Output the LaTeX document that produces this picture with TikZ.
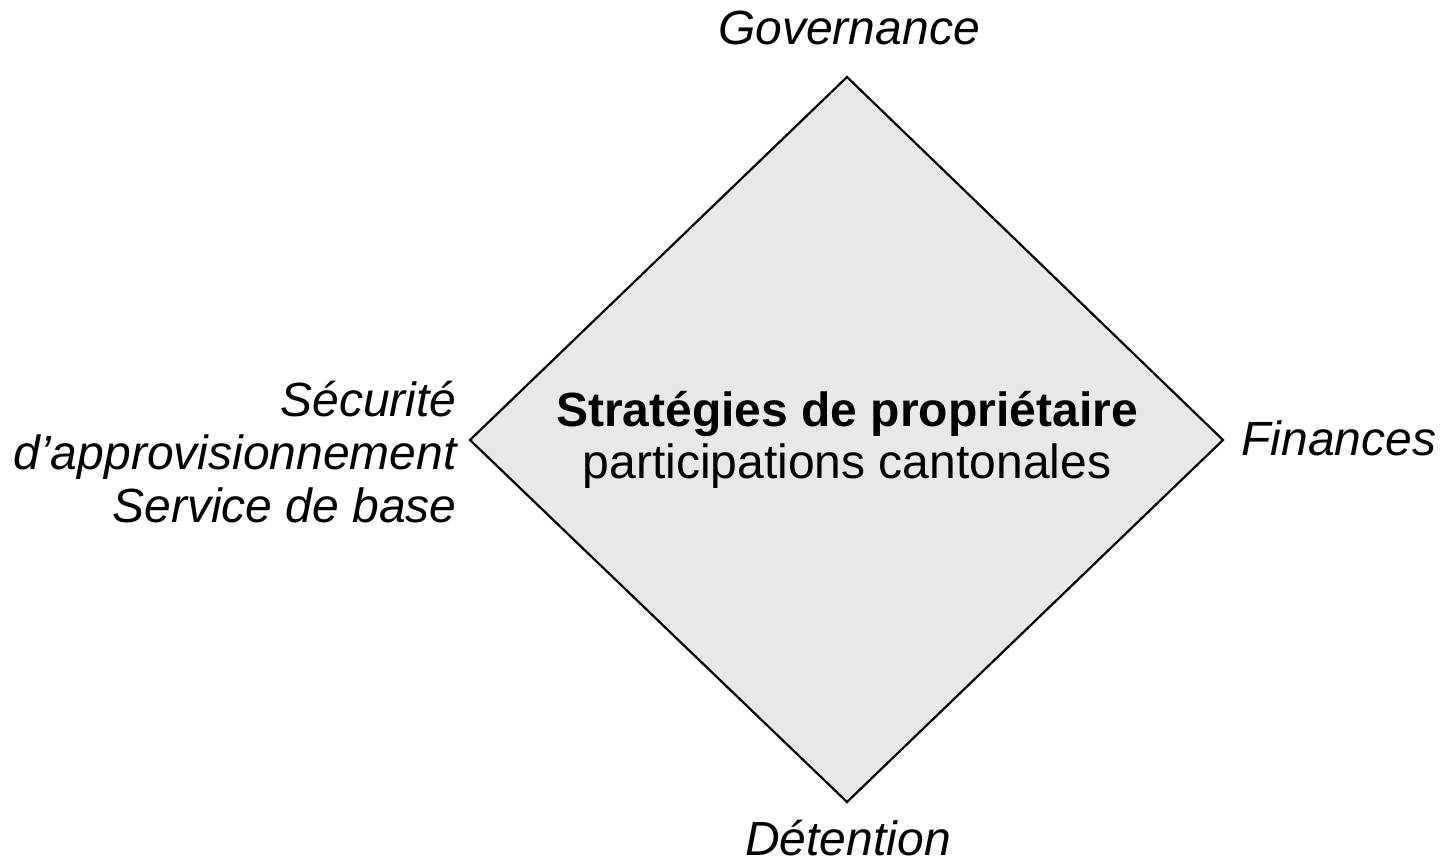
\documentclass[tikz,border=0pt]{standalone}
\usepackage{fontspec}
\setmainfont{Liberation Sans}
\definecolor{diamondfill}{HTML}{E8E8E8}
\begin{document}
\begin{tikzpicture}[x=0.5pt,y=-0.5pt,
  lbl/.style={font=\fontsize{24}{26.5}\selectfont\itshape, inner sep=0pt},
  ctr/.style={font=\fontsize{24}{26}\selectfont, inner sep=0pt, align=center},
  edge/.style={draw=black, line width=1.1pt, line join=miter, fill=diamondfill}]
\useasboundingbox (0,0) rectangle (1441,866);
\coordinate (top) at (847,77);
\coordinate (right) at (1223,440);
\coordinate (bottom) at (847,802);
\coordinate (left) at (470,440);
\path[edge] (top) -- (right) -- (bottom) -- (left) -- cycle;
\node[ctr] (center) at (847,440) {\textbf{Stratégies de propriétaire}\\participations cantonales};
\node[lbl, anchor=base] (gov) at (849,45) {Governance};
\node[lbl, anchor=base] (det) at (848,855) {Détention};
\node[lbl, anchor=base west] (fin) at (1241,455) {Finances};
\node[lbl, anchor=east, align=right] (sec) at (457,452) {Sécurité\\d’approvisionnement\\Service de base};
\end{tikzpicture}
\end{document}
